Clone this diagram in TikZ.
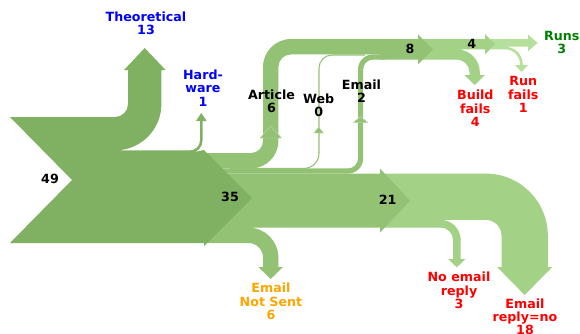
\documentclass[tikz,border=0pt]{standalone}
\usepackage{fontspec}
\setmainfont{DejaVu Sans}
\usepackage{tikz}
\definecolor{stageA}{HTML}{80B062}
\definecolor{stageB}{HTML}{93C275}
\definecolor{stageC}{HTML}{A3D186}
\definecolor{stageD}{HTML}{B5E09B}
\definecolor{runsgreen}{HTML}{008000}
\definecolor{sentorange}{HTML}{FFA500}

\begin{document}
\begin{tikzpicture}[x=0.75pt,y=-0.75pt,
	lbl/.style={align=center,inner sep=0pt,font=\fontsize{9.5}{10}\selectfont\bfseries},
	seam/.style={draw=stageB!60!white,line width=0.3pt}]
	\useasboundingbox (0,0) rectangle (580,333);

	% the last stage: runs and run fails
	\fill[stageD] (485,39) -- (528,39) -- (528,34.5) -- (537.5,42.85) -- (528,51.2) -- (528,46.7) -- (505,46.7)
		arc[start angle=-90,end angle=0,radius=17.8] -- (522.8,65) -- (528,65) -- (521.5,72) -- (515,65) -- (520.2,65)
		-- (520.2,64.5) arc[start angle=0,end angle=-90,radius=15.2] -- (485,49.3) -- (492,44.15) -- cycle;

	% the third stage, top: 4 on and build fails
	\fill[stageC] (418,39) -- (485,39) -- (485,34) -- (495,44.15) -- (485,54.3) -- (485,49.3) -- (456.8,49.3)
		arc[start angle=-90,end angle=0,radius=23] -- (479.8,75) -- (485,75) -- (474.7,85) -- (464.4,75) -- (469.5,75)
		-- (469.5,72.3) arc[start angle=0,end angle=-90,radius=12.7] -- (418,59.6) -- (430,49.3) -- cycle;

	% the third stage, bottom: reply=no and no reply
	\fill[stageC] (380,173.6) -- (485.8,173.6) arc[start angle=-90,end angle=0,radius=62] -- (547.8,267) -- (552.2,267)
		-- (524.65,295) -- (497.1,267) -- (501.5,267) -- (501.5,235.6) arc[start angle=0,end angle=-90,radius=15.7]
		-- (440.7,219.9) arc[start angle=-90,end angle=0,radius=20] -- (460.7,259) -- (465.5,259) -- (456.85,267.3)
		-- (448.2,259) -- (453,259) -- (453,239.9) arc[start angle=0,end angle=-90,radius=12.3] -- (380,227.6)
		-- (405,200.6) -- cycle;

	% the second stage: article up to the top band
	\fill[stageB] (204,153) -- (251,153) arc[start angle=90,end angle=0,radius=12] -- (263,67)
		arc[start angle=180,end angle=270,radius=28] -- (418,39) -- (418,34.3) -- (433,49.3) -- (418,64.3)
		-- (418,59.6) -- (380,59.6) -- (380,54.4) -- (291,54.4) arc[start angle=270,end angle=180,radius=12.6]
		-- (278.4,141) arc[start angle=0,end angle=90,radius=27.4] -- (204,168.4) -- cycle;

	% email
	\fill[stageB] (220,168.4) -- (348,168.4) arc[start angle=90,end angle=0,radius=10] -- (358,69.4)
		arc[start angle=180,end angle=270,radius=15] -- (385,54.4) -- (385,59.6) -- (373,59.6)
		arc[start angle=270,end angle=180,radius=9.8] -- (363.2,158.4) arc[start angle=0,end angle=90,radius=15.2]
		-- (220,173.6) -- cycle;

	% the main band and email not sent
	\fill[stageB] (204,173.6) -- (380,173.6) -- (380,168.6) -- (410,200.6) -- (380,232.6) -- (380,227.6) -- (248.4,227.6)
		arc[start angle=-90,end angle=0,radius=30] -- (278.4,267) -- (283,267) -- (270.7,279) -- (258.4,267) -- (263,267)
		-- (263,257.6) arc[start angle=0,end angle=-90,radius=14.6] -- (204,243) -- (250,198) -- cycle;

	% web, a thin line
	\draw[stageB,line width=0.8pt] (230,168.4) -- (304,168.4) arc[start angle=90,end angle=0,radius=15] -- (319,68)
		arc[start angle=180,end angle=270,radius=13] -- (365,55);

	% the small arrowheads
	\path[fill=stageB,seam] (260,138) -- (270.7,126) -- (281.5,138) -- cycle;
	\path[fill=stageB,seam] (314,133) -- (318.7,127) -- (323.4,133) -- cycle;
	\path[fill=stageB,seam] (353,122.7) -- (360.6,116.7) -- (368,122.7) -- cycle;

	% the first stage: 49 in, theoretical and hardware out
	\fill[stageA] (10,117) -- (115,117) arc[start angle=90,end angle=0,radius=13] -- (128,70) -- (124,70) -- (144.7,48)
		-- (165.6,70) -- (161.4,70) -- (161.4,104) arc[start angle=0,end angle=90,radius=46.4] -- (190,150.4)
		arc[start angle=90,end angle=0,radius=10] -- (200,121) -- (196,121) -- (201.3,113) -- (206.6,121) -- (202.6,121)
		-- (202.6,140.4) arc[start angle=0,end angle=90,radius=12.6] -- (204,150) -- (252,198) -- (204,246)
		-- (204,243) -- (10,243) -- (72,180) -- cycle;

	% the labels
	\node[lbl,blue] (theo) at (146,23) {Theoretical\\13};
	\node[lbl,blue] (hardware) at (203,88) {Hard-\\ware\\1};
	\node[lbl] (article) at (271.5,101) {Article\\6};
	\node[lbl] (web) at (318.7,105) {Web\\0};
	\node[lbl] (email) at (361.5,91) {Email\\2};
	\node[lbl] (eight) at (410,49.3) {8};
	\node[lbl] (four) at (471.7,43.5) {4};
	\node[lbl,runsgreen] (runs) at (561.7,42.7) {Runs\\3};
	\node[lbl,red] (buildfails) at (475.3,108.3) {Build\\fails\\4};
	\node[lbl,red] (runfails) at (523.3,94.7) {Run\\fails\\1};
	\node[lbl] (total) at (50,179) {49};
	\node[lbl] (thirtyfive) at (230,196.7) {35};
	\node[lbl] (twentyone) at (387.7,200) {21};
	\node[lbl,sentorange] (notsent) at (271,301.3) {Email\\Not Sent\\6};
	\node[lbl,red] (noreply) at (459,290.3) {No email\\reply\\3};
	\node[lbl,red] (replyno) at (525,316.7) {Email\\reply=no\\18};
\end{tikzpicture}
\end{document}
